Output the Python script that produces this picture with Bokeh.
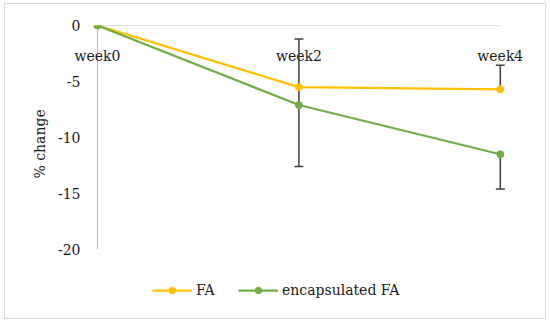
from bokeh.plotting import figure
from bokeh.models import Range1d, FixedTicker, Legend, LegendItem, Title
from bokeh.core.properties import value
from bokeh.embed import file_html
from bokeh.resources import INLINE

# ---- data ----
weeks = ["week0", "week2", "week4"]
week_pos = [0, 2, 4]
fa = [0, -5.5, -5.7]
enc = [0, -7.1, -11.5]
fa_err_plus = [0, 4.3, 2.15]
fa_err_minus = [0, 1.6, 0]
enc_err_minus = [0, 5.5, 3.1]
y_ticks = [-20, -15, -10, -5, 0]
y_tick_labels = ["-20", "-15", "-10", "-5", "0"]
y_title = "% change"

FA_COLOR = "#FFC000"
ENC_COLOR = "#70AD47"
ERR_COLOR = "#404040"
AXIS_COLOR = "#BFBFBF"
TEXT_COLOR = "#1a1a1a"
FONT = "DejaVu Serif"
FS = "14px"

# value range extends below -20 to leave room for the legend inside the frame
p = figure(width=540, height=314,
           x_range=Range1d(-0.268, 4.28), y_range=Range1d(-25.45, max(y_ticks)),
           x_axis_location=None,
           output_backend="svg", toolbar_location=None,
           min_border_left=65, min_border_right=17,
           min_border_top=21, min_border_bottom=8)
p.styles = {"margin-left": "5px", "margin-top": "4px",
            "outline": "1px solid #D9D9D9"}
p.outline_line_color = None
p.xgrid.visible = False
p.ygrid.visible = False

ya = p.yaxis[0]
ya.ticker = FixedTicker(ticks=y_ticks)
ya.major_label_overrides = {t: s for t, s in zip(y_ticks, y_tick_labels)}
ya.axis_line_color = None
ya.major_tick_line_color = None
ya.major_tick_out = 0
ya.major_tick_in = 0
ya.minor_tick_line_color = None
ya.minor_tick_out = 0
ya.major_label_standoff = -10
ya.major_label_text_font = FONT
ya.major_label_text_font_size = FS
ya.major_label_text_color = TEXT_COLOR

# value-axis title, placed along the plotted value span
p.add_layout(Title(text=y_title, align="left", offset=132, vertical_align="middle",
                   standoff=12, text_font=FONT, text_font_size=FS,
                   text_font_style="normal", text_color=TEXT_COLOR), "left")

# axis lines (value axis at week0, category axis at 0)
p.segment(x0=[week_pos[0]], y0=[min(y_ticks)], x1=[week_pos[0]], y1=[max(y_ticks)],
          line_color=AXIS_COLOR, line_width=1.2)
p.segment(x0=[week_pos[0]], y0=[0], x1=[week_pos[-1]], y1=[0],
          line_color=AXIS_COLOR, line_width=1.2)

# category labels under the zero line
p.text(x=week_pos, y=[0] * len(week_pos), text=weeks, text_align="center",
       text_baseline="alphabetic", y_offset=30,
       text_font=value(FONT), text_font_size=FS, text_color=TEXT_COLOR)

# error bars
fa_lo = [v - m for v, m in zip(fa, fa_err_minus)]
fa_hi = [v + e for v, e in zip(fa, fa_err_plus)]
enc_lo = [v - m for v, m in zip(enc, enc_err_minus)]
p.segment(x0=week_pos, y0=fa_lo, x1=week_pos, y1=fa_hi, line_color=ERR_COLOR, line_width=1.5)
p.segment(x0=week_pos, y0=enc_lo, x1=week_pos, y1=enc, line_color=ERR_COLOR, line_width=1.5)
cap_x_fa = [x for x, e in zip(week_pos, fa_err_plus) if e > 0]
cap_y_fa = [y for y, e in zip(fa_hi, fa_err_plus) if e > 0]
cap_x_enc = [x for x, e in zip(week_pos, enc_err_minus) if e > 0]
cap_y_enc = [y for y, e in zip(enc_lo, enc_err_minus) if e > 0]
p.scatter(x=cap_x_fa, y=cap_y_fa, marker="dash", size=9, line_color=ERR_COLOR, line_width=1.5)
p.scatter(x=cap_x_enc, y=cap_y_enc, marker="dash", size=9, line_color=ERR_COLOR, line_width=1.5)

# series
l1 = p.line(week_pos, fa, line_color=FA_COLOR, line_width=2.25)
m1 = p.scatter(week_pos, fa, marker="circle", size=7, fill_color=FA_COLOR, line_color=FA_COLOR)
l2 = p.line(week_pos, enc, line_color=ENC_COLOR, line_width=2.25)
m2 = p.scatter(week_pos, enc, marker="circle", size=7, fill_color=ENC_COLOR, line_color=ENC_COLOR)

legend = Legend(items=[LegendItem(label="FA", renderers=[l1, m1]),
                       LegendItem(label="encapsulated FA", renderers=[l2, m2])],
                orientation="horizontal", location=(82, 12),
                glyph_width=40, glyph_height=16, label_height=16,
                label_standoff=4, spacing=22, padding=0, margin=0,
                border_line_color=None, background_fill_alpha=0,
                label_text_font=FONT, label_text_font_size=FS,
                label_text_color=TEXT_COLOR)
p.add_layout(legend, "center")

open("out.html", "w").write(file_html(p, INLINE))
